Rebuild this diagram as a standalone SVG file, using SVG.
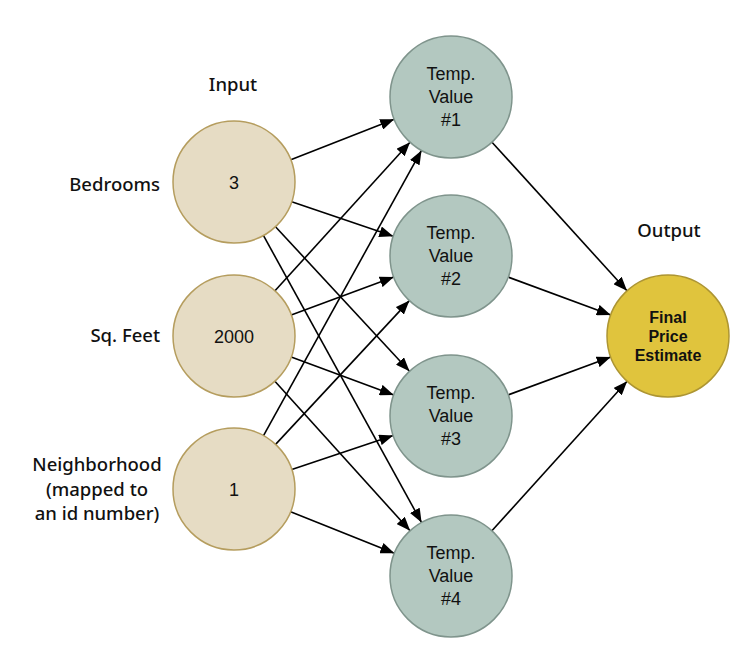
<svg xmlns="http://www.w3.org/2000/svg" width="746" height="657" viewBox="0 0 746 657">
<defs>
<style>
.in{fill:#e6dcc4;stroke:#b59d5e;stroke-width:1.5}
.hid{fill:#b3c8c0;stroke:#7f948c;stroke-width:1.5}
.out{fill:#e0c43d;stroke:#ad9532;stroke-width:1.5}
.lbl{font-family:"Noto Sans","Liberation Sans",sans-serif;font-size:18.5px;fill:#111;font-weight:500}
.nt{font-family:"Liberation Sans",Arial,sans-serif;font-size:18px;fill:#111;text-anchor:middle}
.ob{font-family:"Liberation Sans",Arial,sans-serif;font-size:16px;font-weight:bold;fill:#111;text-anchor:middle}
.e{stroke:#000;stroke-width:1.6;fill:none;marker-end:url(#ah)}
</style>
<marker id="ah" markerUnits="userSpaceOnUse" markerWidth="15" markerHeight="11" refX="14" refY="5.5" orient="auto">
<path d="M0,0 L14,5.5 L0,11 z" fill="#000"/>
</marker>
</defs>
<rect width="746" height="657" fill="#fff"/>
<g id="connectors">
<line class="e" x1="290.8" y1="159.8" x2="394.2" y2="119.3"/>
<line class="e" x1="291.7" y1="201.7" x2="393.3" y2="236.3"/>
<line class="e" x1="275.5" y1="226.7" x2="409.5" y2="371.3"/>
<line class="e" x1="263.4" y1="235.4" x2="421.6" y2="522.6"/>
<line class="e" x1="275.0" y1="290.8" x2="410.0" y2="142.2"/>
<line class="e" x1="291.2" y1="314.9" x2="393.8" y2="277.1"/>
<line class="e" x1="291.2" y1="357.1" x2="393.8" y2="394.9"/>
<line class="e" x1="274.9" y1="381.2" x2="410.1" y2="530.8"/>
<line class="e" x1="263.5" y1="435.6" x2="421.5" y2="150.4"/>
<line class="e" x1="275.6" y1="444.4" x2="409.4" y2="300.6"/>
<line class="e" x1="291.8" y1="469.6" x2="393.2" y2="435.4"/>
<line class="e" x1="290.6" y1="511.7" x2="394.4" y2="553.3"/>
<line class="e" x1="492.0" y1="142.2" x2="627.0" y2="290.8"/>
<line class="e" x1="508.2" y1="277.1" x2="610.8" y2="314.9"/>
<line class="e" x1="508.2" y1="394.9" x2="610.8" y2="357.1"/>
<line class="e" x1="491.9" y1="530.8" x2="627.1" y2="381.2"/>
</g>
<g id="label-input"><text class="lbl" x="233" y="91" text-anchor="middle">Input</text></g>
<g id="label-output"><text class="lbl" x="669" y="237" text-anchor="middle">Output</text></g>
<g id="label-bedrooms"><text class="lbl" x="160" y="191" text-anchor="end">Bedrooms</text></g>
<g id="label-sqfeet"><text class="lbl" x="160" y="342" text-anchor="end">Sq. Feet</text></g>
<g id="label-neighborhood">
<text class="lbl" x="97" y="471" text-anchor="middle">Neighborhood</text>
<text class="lbl" x="97" y="496" text-anchor="middle">(mapped to</text>
<text class="lbl" x="97" y="520" text-anchor="middle">an id number)</text>
</g>
<g id="in1"><circle class="in" cx="234" cy="182" r="61"/><text class="nt" x="234" y="189">3</text></g>
<g id="in2"><circle class="in" cx="234" cy="336" r="61"/><text class="nt" x="234" y="343">2000</text></g>
<g id="in3"><circle class="in" cx="234" cy="489" r="61"/><text class="nt" x="234" y="496">1</text></g>
<g id="h1"><circle class="hid" cx="451" cy="97" r="61"/><text class="nt" x="451" y="80">Temp.</text><text class="nt" x="451" y="103">Value</text><text class="nt" x="451" y="126">#1</text></g>
<g id="h2"><circle class="hid" cx="451" cy="256" r="61"/><text class="nt" x="451" y="239">Temp.</text><text class="nt" x="451" y="262">Value</text><text class="nt" x="451" y="285">#2</text></g>
<g id="h3"><circle class="hid" cx="451" cy="416" r="61"/><text class="nt" x="451" y="399">Temp.</text><text class="nt" x="451" y="422">Value</text><text class="nt" x="451" y="445">#3</text></g>
<g id="h4"><circle class="hid" cx="451" cy="576" r="61"/><text class="nt" x="451" y="559">Temp.</text><text class="nt" x="451" y="582">Value</text><text class="nt" x="451" y="605">#4</text></g>
<g id="out"><circle class="out" cx="668" cy="336" r="61"/><text class="ob" x="668" y="323">Final</text><text class="ob" x="668" y="342">Price</text><text class="ob" x="668" y="361">Estimate</text></g>
</svg>
